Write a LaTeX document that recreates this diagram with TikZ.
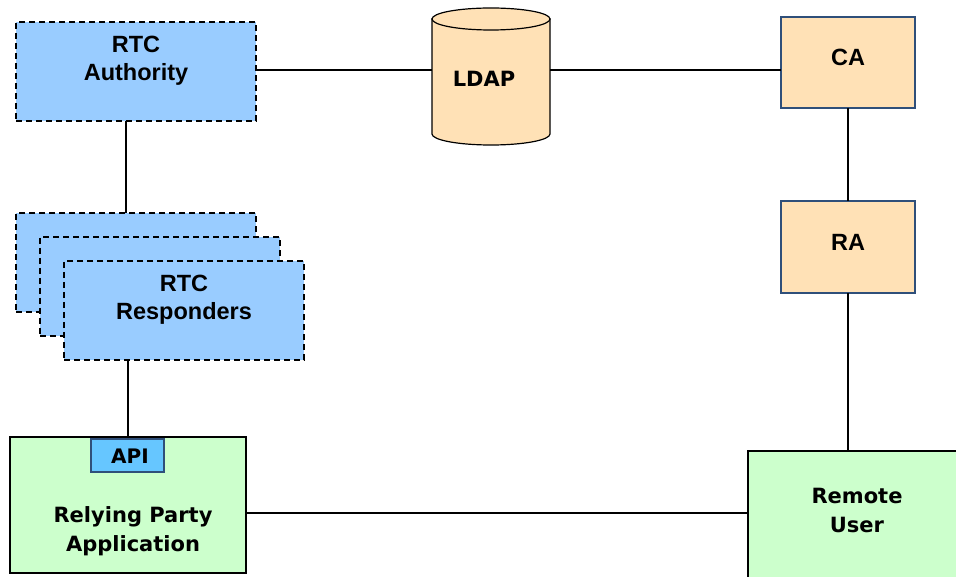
\documentclass[tikz,border=0pt]{standalone}
\usepackage{fontspec}
\setmainfont{Liberation Sans}
\newfontfamily\verdfont{DejaVu Sans}
\definecolor{rtcblue}{HTML}{99CCFF}
\definecolor{apiblue}{HTML}{66C6FF}
\definecolor{peach}{HTML}{FFE1B6}
\definecolor{caborder}{HTML}{2F4F7A}
\definecolor{mint}{HTML}{CCFFCC}
\begin{document}
\begin{tikzpicture}[x=1pt,y=-1pt,
  box/.style={inner sep=0pt, outer sep=0pt},
  dashbox/.style={box, draw=black, line width=2pt, dash pattern=on 6pt off 4pt, fill=rtcblue},
  pkibox/.style={box, draw=caborder, line width=1.5pt, fill=peach},
  greenbox/.style={box, draw=black, line width=1.5pt, fill=mint},
  arialtxt/.style={align=center, inner sep=0pt, font=\bfseries\fontsize{23.5}{28}\selectfont},
  verdtxt/.style={align=center, inner sep=0pt, font=\verdfont\bfseries\fontsize{21}{29}\selectfont},
  link/.style={draw=black, line width=1.5pt}]
\clip (0,0) rectangle (956,577);
\fill[white] (0,0) rectangle (956,577);

% RTC Authority
\node[dashbox, minimum width=240pt, minimum height=99pt] (auth) at (136,71.5) {};
\node[arialtxt] (authtxt) at (136,61) {RTC\\Authority};

% LDAP directory (cylinder)
\node[box, minimum width=118pt, minimum height=124pt] (ldap) at (491,70) {};
\filldraw[fill=peach, draw=black, line width=1.2pt]
  (432,19) -- (432,134) arc[start angle=180, end angle=0, x radius=59, y radius=11] -- (550,19) -- cycle;
\filldraw[fill=peach, draw=black, line width=1.2pt] (491,19) ellipse [x radius=59, y radius=11];
\node[verdtxt] (ldaptxt) at (484,79) {LDAP};

% CA and RA
\node[pkibox, minimum width=134pt, minimum height=91pt] (ca) at (848,62.5) {};
\node[arialtxt] (catxt) at (848,57) {CA};
\node[pkibox, minimum width=134pt, minimum height=92pt] (ra) at (848,247) {};
\node[arialtxt] (ratxt) at (848,242) {RA};

% RTC Responders (stacked)
\node[dashbox, minimum width=240pt, minimum height=99pt] (resp1) at (136,262.5) {};
\node[dashbox, minimum width=240pt, minimum height=99pt] (resp2) at (160,286.5) {};
\node[dashbox, minimum width=240pt, minimum height=99pt] (resp3) at (184,310.5) {};
\node[arialtxt] (resptxt) at (184,300) {RTC\\Responders};

% Relying Party Application with API
\node[greenbox, minimum width=236pt, minimum height=136pt] (app) at (128,505) {};
\node[verdtxt] (apptxt) at (133,531) {Relying Party\\Application};

% Remote User
\node[greenbox, minimum width=220pt, minimum height=132pt] (remote) at (858,517) {};
\node[verdtxt] (remotetxt) at (857,510) {Remote\\User};

% Connectors
\coordinate (rowline) at (0,513);
\draw[link] (auth.east |- ldap.west) -- (ldap.west);
\draw[link] (ldap.east) -- (ldap.east -| ca.west);
\draw[link] (ca.south) -- (ra.north);
\draw[link] (ra.south) -- (ra.south |- remote.north);
\draw[link] ([xshift=-10pt]auth.south) -- ([xshift=-10pt]resp1.north);
\draw[link] (resp3.south -| app.north) -- (app.north);
\draw[link] (app.east |- rowline) -- (remote.west |- rowline);

% API tab
\node[box, draw=caborder, line width=1.2pt, fill=apiblue, minimum width=73pt, minimum height=33pt] (api) at (127.5,455.5) {};
\node[verdtxt, font=\verdfont\bfseries\fontsize{20}{24}\selectfont] (apitxt) at (130,456) {API};
\end{tikzpicture}
\end{document}
